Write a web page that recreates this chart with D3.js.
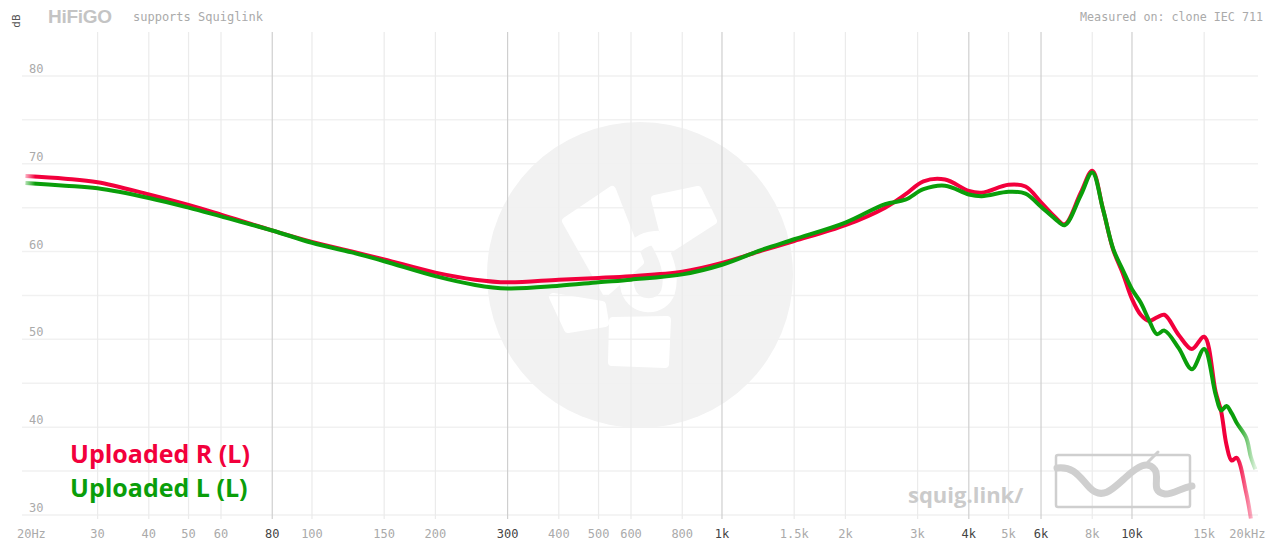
<!DOCTYPE html>
<meta charset="utf-8">
<title>Squiglink graph</title>
<style>
body { margin: 0; background: #fff; }
.mono { font-family: "DejaVu Sans Mono", monospace; }
.grid-h { stroke: #f1f1f1; stroke-width: 1.5px; }
.grid-v { stroke: #ebebeb; stroke-width: 1.2px; }
.grid-v.strong { stroke: #cfcfcf; }
.xlab { fill: #aaa; font-size: 12px; text-anchor: middle; }
.xlab.strong { fill: #444; }
.ylab { fill: #aaa; font-size: 12px; }
.curve { fill: none; stroke-width: 4px; stroke-linejoin: round; }
</style>
<body>
<script src="https://d3js.org/d3.v7.min.js"></script>
<script>

var width = 1280,
    height = 554;

// frequency response, Hz / dB
var freqs  = [20, 25, 30, 40, 50, 60, 80, 100, 125, 150, 200, 250, 300, 400, 500, 600, 800,
              1000, 1250, 1500, 2000, 2500, 2800, 3100, 3500, 4000, 4300, 5000, 5500, 6000,
              6500, 6850, 7500, 8000, 8500, 9000, 9500, 10000, 10500, 11000, 11500, 12000,
              13000, 14000, 15000, 16000, 16500, 17000, 17500, 18000, 19000, 19500];
var redDb  = [68.6, 68.3, 67.9, 66.5, 65.3, 64.2, 62.4, 61.1, 60.0, 59.1, 57.6, 56.8, 56.5, 56.8, 57.0, 57.2, 57.7,
              58.7, 60.1, 61.2, 63.0, 65.0, 66.5, 68.0, 68.2, 66.9, 66.7, 67.6, 67.4, 65.6,
              63.9, 63.1, 66.7, 69.2, 64.8, 60.2, 57.5, 54.6, 52.8, 52.1, 52.5, 52.8,
              50.5, 48.9, 50.3, 44.0, 41.8, 38.0, 36.2, 36.5, 32.5, 29.6];
var greenDb = [67.8, 67.5, 67.2, 66.1, 65.0, 64.0, 62.4, 61.0, 59.9, 58.9, 57.2, 56.2, 55.8, 56.1, 56.5, 56.8, 57.4,
              58.5, 60.2, 61.4, 63.3, 65.4, 65.9, 67.1, 67.5, 66.5, 66.3, 66.8, 66.6, 65.1,
              63.7, 63.0, 66.4, 69.0, 64.8, 60.3, 57.9, 55.7, 54.2, 52.2, 50.6, 51.0,
              49.0, 46.6, 48.9, 43.7, 41.9, 42.4, 41.6, 40.5, 38.8, 36.6, 35.2];
var greenFreqs = freqs.concat([20000]);
var redFreqs = freqs.slice(0, redDb.length);

var series = [
  {name: "Uploaded R (L)", color: "#f2003c", f: redFreqs, db: redDb},
  {name: "Uploaded L (L)", color: "#0a9e0a", f: greenFreqs, db: greenDb}
];

var xTicks = [20, 30, 40, 50, 60, 80, 100, 150, 200, 300, 400, 500, 600, 800,
              1000, 1500, 2000, 3000, 4000, 5000, 6000, 8000, 10000, 15000, 20000];
var xTickLabels = ["20Hz", "30", "40", "50", "60", "80", "100", "150", "200", "300", "400", "500", "600", "800",
                   "1k", "1.5k", "2k", "3k", "4k", "5k", "6k", "8k", "10k", "15k", "20kHz"];
var strongTicks = [80, 300, 1000, 4000, 6000, 10000];
var yGrid = [30, 35, 40, 45, 50, 55, 60, 65, 70, 75, 80];
var yLabels = [30, 40, 50, 60, 70, 80];

var x = d3.scaleLog().domain([20, 20000]).range([25.4, 1255.4]);
var y = d3.scaleLinear().domain([30, 85]).range([515, 32]);

var svg = d3.select("body").append("svg")
    .attr("width", width)
    .attr("height", height);

var defs = svg.append("defs");

// watermark circle with a rough fan logo
var wm = svg.append("g");
wm.append("circle").attr("cx", 640).attr("cy", 275).attr("r", 153).attr("fill", "#f2f2f2");
var blades = [
  [[566, 221], [612, 190], [640, 262], [606, 292]],
  [[655, 199], [698, 190], [713, 221], [668, 250]],
  [[553, 297], [602, 305], [605, 323], [568, 329]],
  [[613, 321], [667, 320], [665, 364], [612, 362]]
];
wm.selectAll("path.blade").data(blades).enter().append("path")
  .attr("class", "blade")
  .attr("d", function(d) { return "M" + d.join("L") + "Z"; })
  .attr("fill", "#fff").attr("stroke", "#fff").attr("stroke-width", 8).attr("stroke-linejoin", "round");
wm.append("path")
  .attr("d", "M655,238 C628,240 622,268 628,290 C634,310 662,310 668,292 C674,272 664,252 655,238 Z")
  .attr("fill", "none").attr("stroke", "#fff").attr("stroke-width", 14);

// grid
svg.append("g").selectAll("line").data(yGrid).enter().append("line")
  .attr("class", "grid-h")
  .attr("x1", 22).attr("x2", 1258)
  .attr("y1", function(d) { return y(d); })
  .attr("y2", function(d) { return y(d); });

svg.append("g").selectAll("line").data(xTicks.slice(1, -1)).enter().append("line")
  .attr("class", function(d) { return strongTicks.indexOf(d) >= 0 ? "grid-v strong" : "grid-v"; })
  .attr("x1", function(d) { return x(d); })
  .attr("x2", function(d) { return x(d); })
  .attr("y1", 32).attr("y2", 519);

// axis labels
svg.append("g").selectAll("text").data(xTicks).enter().append("text")
  .attr("class", function(d) { return strongTicks.indexOf(d) >= 0 ? "xlab mono strong" : "xlab mono"; })
  .attr("x", function(d, i) {
    if (i == 0) return x(d) + 6;
    if (i == xTicks.length - 1) return x(d) - 8;
    return x(d);
  })
  .attr("y", 538)
  .text(function(d, i) { return xTickLabels[i]; });

svg.append("g").selectAll("text").data(yLabels).enter().append("text")
  .attr("class", "ylab mono")
  .attr("x", 29)
  .attr("y", function(d) { return y(d) - 3; })
  .text(function(d) { return d; });

svg.append("text").attr("class", "mono")
  .attr("transform", "translate(20,21) rotate(-90)")
  .attr("text-anchor", "middle")
  .attr("font-size", 11).attr("fill", "#555")
  .text("dB");

// header
svg.append("text")
  .attr("x", 48).attr("y", 23)
  .attr("font-family", "Liberation Sans, Arial, sans-serif")
  .attr("font-weight", "bold").attr("font-size", 19)
  .attr("fill", "#c4c4c4").attr("letter-spacing", -0.3)
  .text("HiFiGO");
svg.append("text").attr("class", "mono")
  .attr("x", 133).attr("y", 21)
  .attr("font-size", 12).attr("fill", "#aaa")
  .text("supports Squiglink");
svg.append("text").attr("class", "mono")
  .attr("x", 1263).attr("y", 21)
  .attr("text-anchor", "end")
  .attr("font-size", 11.7).attr("fill", "#aaa")
  .text("Measured on: clone IEC 711");

// squig.link mark
svg.append("text")
  .attr("x", 908).attr("y", 503)
  .attr("font-family", "Open Sans, sans-serif")
  .attr("font-weight", "bold").attr("font-size", 22)
  .attr("fill", "#cbcbcb")
  .text("squig.link/");
svg.append("rect")
  .attr("x", 1056).attr("y", 455).attr("width", 134).attr("height", 52).attr("rx", 2)
  .attr("fill", "none").attr("stroke", "#cfcfcf").attr("stroke-width", 2.5);
svg.append("path")
  .attr("d", "M1057,468 C1075,466 1080,478 1090,488 C1102,500 1112,490 1125,478 C1138,466 1148,460 1155,470 C1160,478 1150,492 1165,494 C1175,494 1180,488 1192,486")
  .attr("fill", "none").attr("stroke", "#cfcfcf").attr("stroke-width", 7).attr("stroke-linecap", "round");
svg.append("path")
  .attr("d", "M1148,462 L1158,452")
  .attr("fill", "none").attr("stroke", "#cfcfcf").attr("stroke-width", 3).attr("stroke-linecap", "round");

// curves
var line = d3.line()
  .x(function(d) { return x(d[0]); })
  .y(function(d) { return y(d[1]); })
  .curve(d3.curveCatmullRom.alpha(0.5));

series.forEach(function(s, i) {
  var g = defs.append("linearGradient")
    .attr("id", "fade" + i)
    .attr("gradientUnits", "userSpaceOnUse")
    .attr("x1", x(20)).attr("x2", x(20000)).attr("y1", 0).attr("y2", 0);
  g.append("stop").attr("offset", 0).attr("stop-color", s.color).attr("stop-opacity", 0.3);
  g.append("stop").attr("offset", 0.008).attr("stop-color", s.color).attr("stop-opacity", 1);
  g.append("stop").attr("offset", 0.985).attr("stop-color", s.color).attr("stop-opacity", 1);
  g.append("stop").attr("offset", 1).attr("stop-color", s.color).attr("stop-opacity", 0.15);
});

svg.append("clipPath").attr("id", "plotclip")
  .append("rect").attr("x", 0).attr("y", 25).attr("width", 1280).attr("height", 495);

svg.append("g").attr("clip-path", "url(#plotclip)")
  .selectAll("path").data(series).enter().append("path")
  .attr("class", "curve")
  .attr("stroke", function(d, i) { return "url(#fade" + i + ")"; })
  .attr("d", function(d) { return line(d.f.map(function(f, k) { return [f, d.db[k]]; })); });

// legend
svg.append("g").selectAll("text").data(series).enter().append("text")
  .attr("x", 70)
  .attr("y", function(d, i) { return 463 + i * 34; })
  .attr("font-family", "Open Sans, sans-serif")
  .attr("font-weight", "bold").attr("font-size", 25)
  .attr("fill", function(d) { return d.color; })
  .text(function(d) { return d.name; });

</script>
</body>
